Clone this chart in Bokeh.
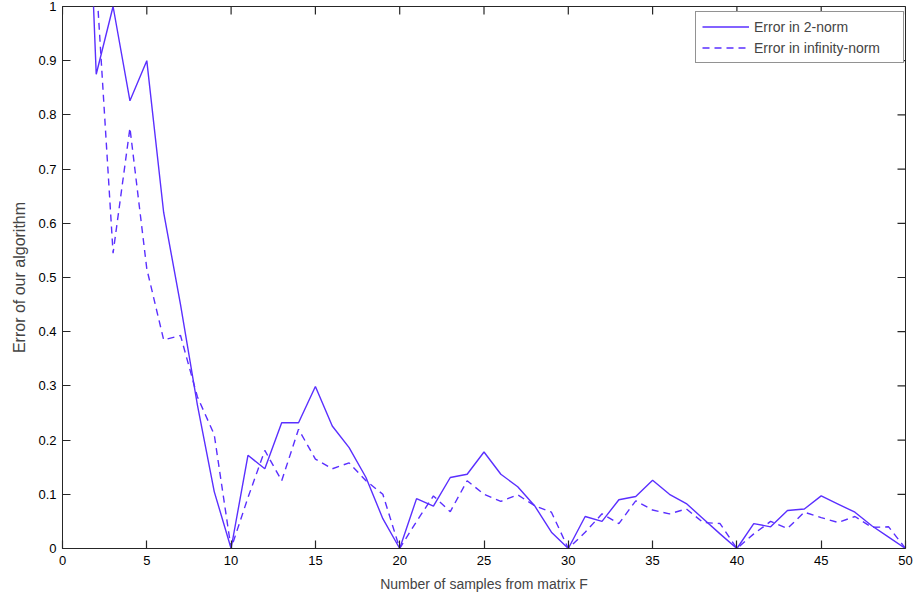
import math
from bokeh.plotting import figure
from bokeh.models import Range1d, FixedTicker, Legend, LegendItem, ColumnDataSource
from bokeh.embed import file_html
from bokeh.resources import INLINE

samples = list(range(1, 51))
err_2norm = [1.66, 0.875, 1.0, 0.826, 0.90, 0.62, 0.45, 0.265, 0.105, 0.0,
             0.172, 0.147, 0.232, 0.232, 0.299, 0.226, 0.186, 0.131, 0.055, 0.0,
             0.092, 0.078, 0.131, 0.137, 0.178, 0.137, 0.114, 0.079, 0.03, 0.0,
             0.059, 0.05, 0.09, 0.096, 0.126, 0.10, 0.083, 0.055, 0.027, 0.0,
             0.046, 0.04, 0.07, 0.073, 0.097, 0.082, 0.067, 0.042, 0.021, 0.0]
err_infnorm = [1.5, 1.05, 0.545, 0.776, 0.516, 0.385, 0.393, 0.28, 0.21, 0.0,
               0.094, 0.181, 0.125, 0.22, 0.165, 0.147, 0.158, 0.125, 0.10, 0.0,
               0.05, 0.097, 0.068, 0.125, 0.10, 0.087, 0.099, 0.079, 0.067, 0.0,
               0.03, 0.064, 0.046, 0.088, 0.071, 0.064, 0.073, 0.048, 0.046, 0.0,
               0.027, 0.05, 0.037, 0.067, 0.057, 0.048, 0.059, 0.039, 0.04, 0.0]

x_ticks = [0, 5, 10, 15, 20, 25, 30, 35, 40, 45, 50]
x_tick_labels = ["0", "5", "10", "15", "20", "25", "30", "35", "40", "45", "50"]
y_ticks = [0, 0.1, 0.2, 0.3, 0.4, 0.5, 0.6, 0.7, 0.8, 0.9, 1]
y_tick_labels = ["0", "0.1", "0.2", "0.3", "0.4", "0.5", "0.6", "0.7", "0.8", "0.9", "1"]
x_limits = (0, 50)
y_limits = (0, 1)

series_names = ["Error in 2-norm", "Error in infinity-norm"]
x_label = "Number of samples from matrix F"
y_label = "Error of our algorithm"

FONT = "Liberation Sans"
LINE_COLOR = "#5a2fff"
AX_COLOR = "#262626"

src = ColumnDataSource(dict(x=samples, e2=err_2norm, einf=err_infnorm))

p = figure(width=915, height=602, output_backend="svg", toolbar_location=None,
           x_range=Range1d(*x_limits), y_range=Range1d(*y_limits),
           min_border_left=62, min_border_right=10, min_border_top=6, min_border_bottom=54)
p.background_fill_color = "white"
p.border_fill_color = "white"
p.outline_line_color = AX_COLOR
p.xgrid.visible = False
p.ygrid.visible = False

r1 = p.line("x", "e2", source=src, line_color=LINE_COLOR, line_width=1.4)
r2 = p.line("x", "einf", source=src, line_color=LINE_COLOR, line_width=1.4, line_dash="7 5")

# mirrored inward ticks on the top and right edges of the box (clipped to the frame)
p.scatter(x=x_ticks, y=[y_limits[1]] * len(x_ticks), marker="dash", size=16,
          angle=math.pi / 2, line_color=AX_COLOR, line_width=1.2)
p.scatter(x=[x_limits[1]] * len(y_ticks), y=y_ticks, marker="dash", size=16,
          angle=0, line_color=AX_COLOR, line_width=1.2)


def style_axis(ax, ticks, labels):
    ax.ticker = FixedTicker(ticks=ticks)
    ax.major_label_overrides = dict(zip(ticks, labels))
    ax.major_tick_in = 8
    ax.major_tick_out = 0
    ax.minor_tick_in = 0
    ax.minor_tick_out = 0
    ax.axis_line_color = AX_COLOR
    ax.major_tick_line_color = AX_COLOR
    ax.major_tick_line_width = 1.2
    ax.major_label_text_font = FONT
    ax.major_label_text_color = "black"
    ax.major_label_text_font_size = "13px"


xa = p.xaxis[0]
style_axis(xa, x_ticks, x_tick_labels)
xa.major_label_standoff = 7
xa.axis_label = x_label
xa.axis_label_text_font = FONT
xa.axis_label_text_font_size = "14px"
xa.axis_label_text_font_style = "normal"
xa.axis_label_standoff = 8

ya = p.yaxis[0]
style_axis(ya, y_ticks, y_tick_labels)
ya.major_label_standoff = 6
ya.axis_label = y_label
ya.axis_label_text_font = FONT
ya.axis_label_text_font_size = "16px"
ya.axis_label_text_font_style = "normal"
ya.axis_label_standoff = 7

legend = Legend(items=[LegendItem(label=series_names[0], renderers=[r1]),
                       LegendItem(label=series_names[1], renderers=[r2])],
                location=(633, 485))
legend.label_text_font = FONT
legend.label_text_font_size = "14px"
legend.glyph_width = 47
legend.glyph_height = 17
legend.label_height = 17
legend.label_width = 143
legend.label_standoff = 5
legend.spacing = 4
legend.padding = 6
legend.margin = 0
legend.border_line_color = AX_COLOR
legend.border_line_width = 1
legend.background_fill_color = "white"
legend.background_fill_alpha = 1
p.add_layout(legend)

open("out.html", "w").write(file_html(p, INLINE))
